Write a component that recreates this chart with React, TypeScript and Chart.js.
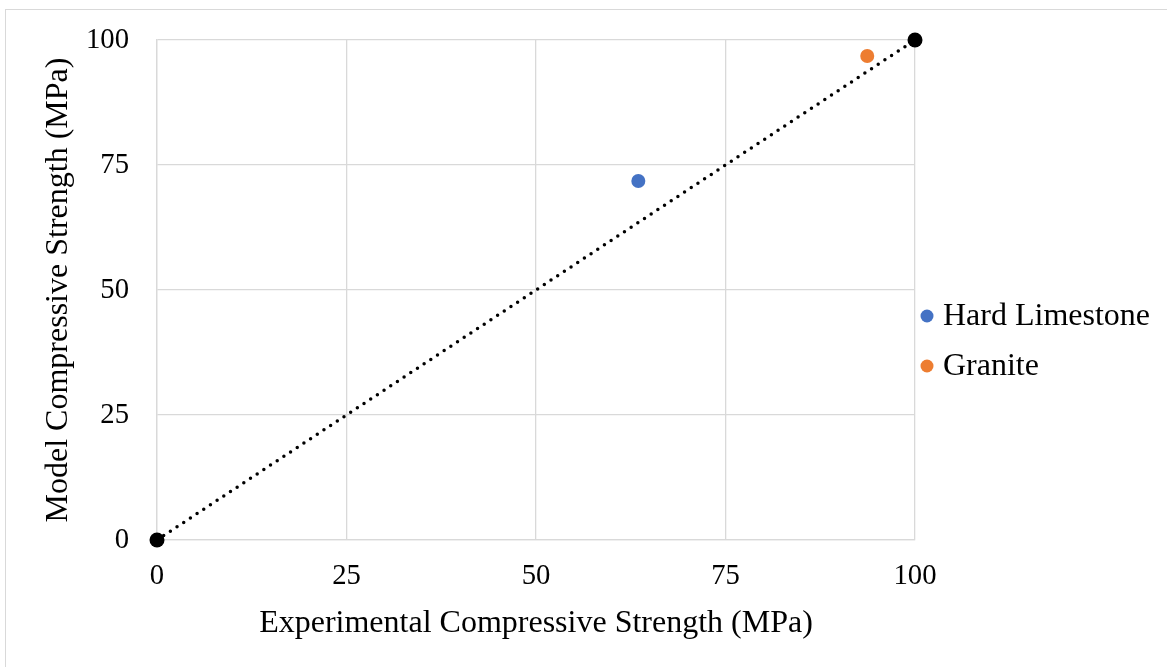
import React, { useEffect, useRef } from "react";
import { Chart, registerables } from "chart.js";

Chart.register(...registerables);

const seriesNames = ["Hard Limestone", "Granite"];
const seriesColors = ["#4472C4", "#ED7D31"];
const experimentalValues = [63.5, 93.7];
const modelValues = [71.8, 96.8];
const referenceLineX = [0, 100];
const referenceLineY = [0, 100];
const axisTicks = [0, 25, 50, 75, 100];

const FONT = "'Liberation Serif', 'Times New Roman', serif";

const legendPlugin = {
  id: "customLegend",
  afterDraw(chart: any) {
    const ctx = chart.ctx;
    const opts = chart.options.plugins.customLegend;
    ctx.save();
    ctx.font = `32px ${FONT}`;
    ctx.textBaseline = "middle";
    ctx.textAlign = "left";
    seriesNames.forEach((name, i) => {
      const y = opts.startY + i * opts.gap;
      ctx.beginPath();
      ctx.fillStyle = seriesColors[i];
      ctx.arc(opts.dotX, y, 6.5, 0, Math.PI * 2);
      ctx.fill();
      ctx.fillStyle = "#000000";
      ctx.fillText(name, opts.textX, y + 1);
    });
    ctx.restore();
  },
};

export default function App() {
  const ref = useRef<HTMLCanvasElement | null>(null);

  useEffect(() => {
    if (!ref.current) return;
    const datasets: any[] = seriesNames.map((name, i) => ({
      type: "scatter",
      label: name,
      data: [{ x: experimentalValues[i], y: modelValues[i] }],
      backgroundColor: seriesColors[i],
      borderColor: seriesColors[i],
      pointRadius: 7,
      pointHoverRadius: 7,
      borderWidth: 0,
      clip: false,
    }));
    datasets.push({
      type: "line",
      label: "Reference",
      data: referenceLineX.map((x, i) => ({ x, y: referenceLineY[i] })),
      borderColor: "#000000",
      backgroundColor: "#000000",
      borderWidth: 3.5,
      borderDash: [0, 8],
      borderCapStyle: "round",
      pointRadius: 7.5,
      pointBorderWidth: 0,
      pointBackgroundColor: "#000000",
      fill: false,
      clip: false,
    });

    const chart = new Chart(ref.current, {
      type: "scatter",
      data: { datasets },
      plugins: [legendPlugin],
      options: {
        animation: false,
        responsive: false,
        devicePixelRatio: 1,
        layout: { padding: { left: 0, right: 252, top: 40, bottom: 0 } },
        plugins: {
          legend: { display: false },
          tooltip: { enabled: false },
          customLegend: { dotX: 927, textX: 943, startY: 316, gap: 50 },
        } as any,
        scales: {
          x: {
            type: "linear",
            min: 0,
            max: 100,
            afterBuildTicks: (scale: any) => {
              scale.ticks = axisTicks.map((v) => ({ value: v }));
            },
            afterFit: (scale: any) => {
              scale.height = 127;
              scale.paddingLeft = 0;
              scale.paddingRight = 0;
              scale.paddingTop = 0;
              scale.paddingBottom = 0;
            },
            grid: { color: "#d9d9d9", lineWidth: 1.3, drawTicks: false },
            border: { color: "#d9d9d9", width: 1.3 },
            ticks: {
              color: "#000000",
              padding: 19,
              maxRotation: 0,
              font: { family: FONT, size: 28.7 },
            },
            title: {
              display: true,
              text: "Experimental Compressive Strength (MPa)",
              color: "#000000",
              font: { family: FONT, size: 32 },
              padding: { top: 0, bottom: 24 },
            },
          },
          y: {
            type: "linear",
            min: 0,
            max: 100,
            afterBuildTicks: (scale: any) => {
              scale.ticks = axisTicks.map((v) => ({ value: v }));
            },
            afterFit: (scale: any) => {
              scale.width = 157;
              scale.paddingLeft = 0;
              scale.paddingRight = 0;
              scale.paddingTop = 0;
              scale.paddingBottom = 0;
            },
            grid: { color: "#d9d9d9", lineWidth: 1.3, drawTicks: false },
            border: { color: "#d9d9d9", width: 1.3 },
            ticks: {
              color: "#000000",
              padding: 28,
              font: { family: FONT, size: 28.7 },
            },
            title: {
              display: true,
              text: "Model Compressive Strength (MPa)",
              color: "#000000",
              font: { family: FONT, size: 32 },
              padding: { top: 39, bottom: 0 },
            },
          },
        },
      } as any,
    });
    return () => chart.destroy();
  }, []);

  return (
    <div
      style={{
        position: "fixed",
        left: 0,
        top: 0,
        width: 1167,
        height: 667,
        overflow: "hidden",
        background: "#ffffff",
      }}
    >
      <div
        style={{
          position: "absolute",
          left: 5,
          top: 9,
          width: 1300,
          height: 800,
          border: "1px solid #d9d9d9",
        }}
      />
      <canvas
        ref={ref}
        width={1167}
        height={667}
        style={{ position: "absolute", left: 0, top: 0, width: 1167, height: 667 }}
      />
    </div>
  );
}
